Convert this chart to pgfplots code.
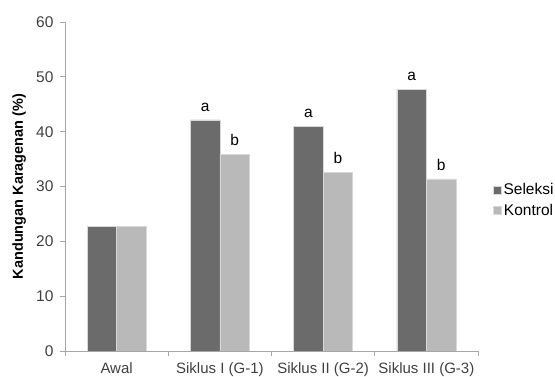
\documentclass[border=0pt]{standalone}
\usepackage{fontspec}
\setmainfont{Liberation Sans}
\usepackage{pgfplots}
\pgfplotsset{compat=1.18}
\definecolor{dk}{HTML}{6B6B6B}
\definecolor{lt}{HTML}{B9B9B9}
\definecolor{axc}{HTML}{A6A6A6}
\definecolor{tk}{HTML}{404040}
\definecolor{bd}{HTML}{D8D8D8}
\begin{document}
\begin{tikzpicture}
\useasboundingbox (-65pt,-26pt) rectangle (490pt,351pt);
\begin{axis}[
  at={(0pt,0pt)}, anchor=south west,
  scale only axis, width=413pt, height=329pt,
  ybar=0pt, bar width=29.5pt,
  xmin=-0.5, xmax=3.5, ymin=0, ymax=60,
  ytick={0,10,...,60},
  xtick={0,1,2,3},
  xticklabels={Awal,Siklus I (G-1),Siklus II (G-2),Siklus III (G-3)},
  minor xtick={-0.5,0.5,1.5,2.5,3.5},
  axis lines=left,
  axis line style={-, draw=axc, line width=0.8pt},
  major tick length=5pt, minor tick length=5pt,
  tick align=outside,
  tick style={draw=axc, line width=0.8pt},
  major x tick style={draw=none},
  /pgf/number format/assume math mode=true,
  yticklabel style={font=\fontsize{15.5}{18}\selectfont, text=tk, xshift=-3pt},
  xticklabel style={font=\fontsize{15}{18}\selectfont, text=tk, yshift=-3pt},
  ylabel={\bfseries Kandungan Karagenan (\%)},
  ylabel style={at={(axis description cs:-0.111,0.5)}, anchor=center, font=\fontsize{14.5}{17}\selectfont, text=black},
  legend style={at={(axis description cs:1.036,0.515)}, anchor=north west, draw=none, fill=none,
    font=\fontsize{15.5}{18}\selectfont, row sep=3.5pt, inner sep=0pt},
  legend image code/.code={\fill[#1] (0pt,-4pt) rectangle (8pt,4pt);},
  nodes near coords, point meta=explicit symbolic,
  every node near coord/.append style={font=\fontsize{15.5}{18}\selectfont, text=black, yshift=5pt},
]
\addplot[fill=dk, draw=bd, line width=0.5pt] coordinates {(0,22.7) [{}] (1,42.15) [a] (2,40.9) [a] (3,47.75) [a]};
\addplot[fill=lt, draw=bd, line width=0.5pt] coordinates {(0,22.7) [{}] (1,35.9) [b] (2,32.6) [b] (3,31.4) [b]};
\legend{Seleksi,Kontrol}
\end{axis}
\end{tikzpicture}
\end{document}
